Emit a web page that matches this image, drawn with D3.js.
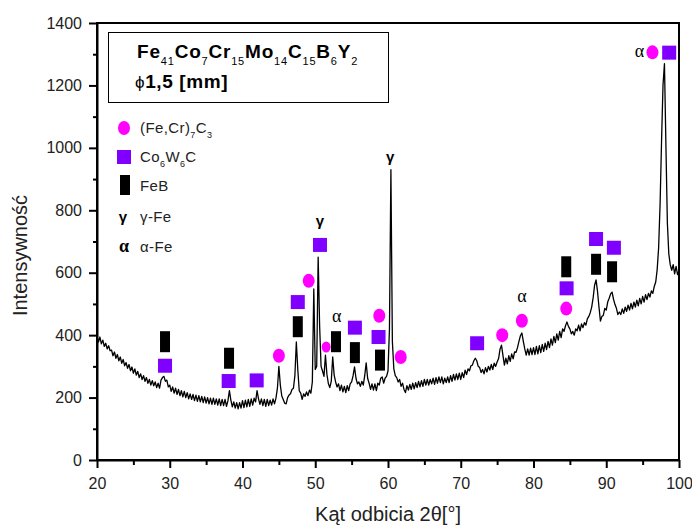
<!DOCTYPE html>
<html lang="pl">
<head>
  <meta charset="UTF-8">
  <title>XRD Fe41Co7Cr15Mo14C15B6Y2</title>
  <script src="https://d3js.org/d3.v7.min.js"></script>
  <style>
    body { margin: 0; background: #fff; }
    svg text { font-family: Arial, "Liberation Sans", sans-serif; fill: #222; }
    .axis path, .axis line { stroke: #000; }
  </style>
</head>
<body>
  <svg width="692" height="528"></svg>
  <script>
    // Measurement grid: 2theta from 20 to 100 deg, 0.2 deg step
    const angleStart = 20, angleStep = 0.2;
    const intensity = [
      396,378,394,372,384,364,374,356,366,350,
      352,334,346,326,338,318,330,310,322,302,
      312,294,306,286,298,278,292,272,284,264,
      276,258,270,252,264,246,258,240,254,238,
      250,232,246,230,256,264,268,252,256,234,
      240,220,234,214,230,210,226,206,222,202,
      220,200,216,196,212,194,210,190,208,188,
      206,186,204,184,202,182,200,180,198,178,
      198,178,196,176,196,174,194,174,194,172,
      190,222,192,170,186,166,184,164,184,166,
      190,168,192,170,194,172,196,176,198,186,
      222,196,178,196,174,194,172,194,174,192,
      176,196,180,198,230,300,240,205,194,182,
      180,200,208,212,226,230,270,378,290,222,
      214,194,212,204,218,206,224,214,250,548,
      290,300,650,430,300,285,268,336,275,245,
      232,252,330,272,250,234,244,222,240,218,
      236,216,238,222,244,250,270,298,262,244,
      250,236,252,240,270,311,262,246,226,244,
      224,244,222,246,240,262,266,246,262,268,
      285,420,930,380,292,270,264,250,258,236,
      246,226,216,238,224,242,226,246,228,248,
      232,252,234,254,236,258,240,258,240,258,
      244,262,242,264,246,266,248,266,244,262,
      248,266,248,270,252,274,256,276,258,278,
      258,280,264,288,274,292,286,302,304,318,
      326,318,300,296,280,290,276,296,282,300,
      288,306,290,310,300,314,325,355,368,335,
      304,326,308,334,316,340,324,346,345,360,
      380,398,407,380,356,336,356,336,358,338,
      360,338,364,340,366,344,370,348,374,354,
      380,360,388,368,396,376,404,384,412,392,
      420,412,430,442,428,420,404,412,400,420,
      414,432,414,436,424,440,432,452,460,472,
      490,520,560,577,540,490,445,460,464,486,
      480,506,518,532,538,515,498,486,466,474,
      466,484,470,490,476,496,480,502,484,506,
      490,512,494,518,500,524,506,530,514,534,
      522,542,534,556,570,610,680,820,1020,1200,
      1270,1010,760,660,625,608,626,596,620,594,
      606
    ];

    // Phase markers [2theta, intensity]
    const carbideM7C3 = [[45.0, 334], [49.1, 574], [58.8, 462], [61.75, 330],
                         [75.7, 400], [78.4, 446], [84.5, 485], [96.35, 1306]];
    const carbideM7C3Small = [[51.5, 362]];
    const carbideCo6W6C = [[29.35, 302], [38.1, 253], [41.95, 255], [47.6, 506],
                           [50.65, 689], [55.45, 424], [58.7, 394], [72.25, 374],
                           [84.55, 550], [88.6, 708], [91.05, 680], [98.65, 1305]];
    const borideFeB = [[29.35, 379], [38.15, 326], [47.6, 427], [52.85, 379],
                       [55.45, 344], [58.9, 320], [84.5, 619], [88.6, 627], [90.8, 603]];
    const gammaLabels = [[50.65, 767], [60.3, 972]];
    const alphaLabels = [[52.95, 457], [78.4, 523], [94.55, 1306]];

    const xTicks = d3.range(20, 101, 10);
    const yTicks = d3.range(0, 1401, 200);
    const formula = [["Fe", "41"], ["Co", "7"], ["Cr", "15"], ["Mo", "14"],
                     ["C", "15"], ["B", "6"], ["Y", "2"]];

    const svg = d3.select("svg");
    const margin = {left: 97, right: 13, top: 23, bottom: 68};
    const W = 692, H = 528;

    const x = d3.scaleLinear().domain([20, 100]).range([margin.left, W - margin.right]);
    const y = d3.scaleLinear().domain([0, 1400]).range([H - margin.bottom, margin.top]);

    const points = intensity.map((v, i) => [angleStart + i * angleStep, v]);

    // frame
    svg.append("rect")
      .attr("x", x(20)).attr("y", y(1400))
      .attr("width", x(100) - x(20)).attr("height", y(0) - y(1400))
      .attr("fill", "none").attr("stroke", "#000").attr("stroke-width", 2);

    // minor ticks
    svg.append("g").attr("class", "axis")
      .attr("transform", `translate(0,${y(0)})`)
      .call(d3.axisBottom(x).tickValues(d3.range(25, 100, 10)).tickSize(5).tickFormat(""))
      .call(g => g.select(".domain").remove())
      .selectAll("line").attr("stroke-width", 2);
    svg.append("g").attr("class", "axis")
      .attr("transform", `translate(${x(20)},0)`)
      .call(d3.axisLeft(y).tickValues(d3.range(100, 1400, 200)).tickSize(4).tickFormat(""))
      .call(g => g.select(".domain").remove())
      .selectAll("line").attr("stroke-width", 2);

    // major axes
    const xAxis = svg.append("g").attr("class", "axis")
      .attr("transform", `translate(0,${y(0)})`)
      .call(d3.axisBottom(x).tickValues(xTicks).tickSize(8).tickSizeOuter(0).tickFormat(d3.format("d")));
    xAxis.select(".domain").attr("stroke-width", 2);
    xAxis.selectAll("line").attr("stroke-width", 2);
    xAxis.selectAll("text").attr("font-size", 16).attr("dy", "1.15em").attr("fill", "#222");

    const yAxis = svg.append("g").attr("class", "axis")
      .attr("transform", `translate(${x(20)},0)`)
      .call(d3.axisLeft(y).tickValues(yTicks).tickSize(8).tickSizeOuter(0).tickFormat(d3.format("d")));
    yAxis.select(".domain").attr("stroke-width", 2);
    yAxis.selectAll("line").attr("stroke-width", 2);
    yAxis.selectAll("text").attr("font-size", 16).attr("x", -15).attr("fill", "#222");

    // pattern
    svg.append("path")
      .datum(points)
      .attr("fill", "none")
      .attr("stroke", "#000")
      .attr("stroke-width", 1.3)
      .attr("stroke-linejoin", "round")
      .attr("d", d3.line().x(d => x(d[0])).y(d => y(d[1])));

    // markers
    svg.append("g").selectAll("ellipse").data(carbideM7C3).join("ellipse")
      .attr("cx", d => x(d[0])).attr("cy", d => y(d[1]))
      .attr("rx", 6).attr("ry", 7).attr("fill", "#ff00ff");
    svg.append("g").selectAll("ellipse").data(carbideM7C3Small).join("ellipse")
      .attr("cx", d => x(d[0])).attr("cy", d => y(d[1]))
      .attr("rx", 4.5).attr("ry", 5.5).attr("fill", "#ff00ff");
    svg.append("g").selectAll("rect").data(carbideCo6W6C).join("rect")
      .attr("x", d => x(d[0]) - 7).attr("y", d => y(d[1]) - 7)
      .attr("width", 14).attr("height", 14).attr("fill", "#8000ff");
    svg.append("g").selectAll("rect").data(borideFeB).join("rect")
      .attr("x", d => x(d[0]) - 5).attr("y", d => y(d[1]) - 10.5)
      .attr("width", 10).attr("height", 21).attr("fill", "#000");
    svg.append("g").selectAll("text").data(gammaLabels).join("text")
      .attr("x", d => x(d[0])).attr("y", d => y(d[1]) + 5)
      .attr("text-anchor", "middle").attr("font-size", 15).attr("font-weight", "bold")
      .style("fill", "#000").text("γ");
    svg.append("g").selectAll("text").data(alphaLabels).join("text")
      .attr("x", d => x(d[0])).attr("y", d => y(d[1]) + 5)
      .attr("text-anchor", "middle").attr("font-size", 18)
      .style("font-family", "'Liberation Serif', 'DejaVu Serif', serif")
      .style("fill", "#000").text("α");

    // title box
    svg.append("rect")
      .attr("x", 108.5).attr("y", 32.5).attr("width", 280).attr("height", 70)
      .attr("fill", "#fff").attr("stroke", "#000").attr("stroke-width", 1);
    const title = svg.append("text").attr("x", 137).attr("y", 58)
      .attr("font-size", 19).attr("font-weight", "bold")
      .style("letter-spacing", "0.8px").style("fill", "#000");
    formula.forEach(([el, n], i) => {
      title.append("tspan").attr("dy", i === 0 ? 0 : -7).text(el);
      title.append("tspan").attr("dy", 7).attr("font-size", 11).attr("font-weight", "normal").text(n);
    });
    const dia = svg.append("text").attr("x", 135).attr("y", 88)
      .attr("font-size", 19).attr("font-weight", "bold")
      .style("letter-spacing", "0.6px").style("fill", "#000");
    dia.append("tspan").attr("font-weight", "normal").attr("font-size", 17).text("ϕ");
    dia.append("tspan").text("1,5 [mm]");

    // legend
    const leg = svg.append("g");
    leg.append("ellipse").attr("cx", 124).attr("cy", 128).attr("rx", 6).attr("ry", 7).attr("fill", "#ff00ff");
    leg.append("rect").attr("x", 117).attr("y", 150).attr("width", 14).attr("height", 14).attr("fill", "#8000ff");
    leg.append("rect").attr("x", 120).attr("y", 175).attr("width", 10).attr("height", 20).attr("fill", "#000");
    leg.append("text").attr("x", 123).attr("y", 222).attr("text-anchor", "middle")
      .attr("font-size", 15).attr("font-weight", "bold").style("fill", "#000").text("γ");
    leg.append("text").attr("x", 124).attr("y", 252).attr("text-anchor", "middle")
      .attr("font-size", 18).attr("font-weight", "bold")
      .style("font-family", "'Liberation Serif', serif").style("fill", "#000").text("α");

    function legendText(yy, parts) {
      const t = leg.append("text").attr("x", 140).attr("y", yy)
        .attr("font-size", 15).style("letter-spacing", "0.4px");
      let shifted = false;
      parts.forEach(([s, sub]) => {
        t.append("tspan").attr("dy", shifted ? -5 : 0).text(s);
        shifted = false;
        if (sub) {
          t.append("tspan").attr("dy", 5).attr("font-size", 9).text(sub);
          shifted = true;
        }
      });
    }
    legendText(133, [["(Fe,Cr)", "7"], ["C", "3"]]);
    legendText(162, [["Co", "6"], ["W", "6"], ["C", null]]);
    legendText(191, [["FeB", null]]);
    legendText(222, [["γ-Fe", null]]);
    legendText(252, [["α-Fe", null]]);

    // axis titles
    svg.append("text")
      .attr("x", (x(20) + x(100)) / 2).attr("y", 521)
      .attr("text-anchor", "middle").attr("font-size", 20)
      .text("Kąt odbicia 2θ[°]");
    svg.append("text")
      .attr("transform", `translate(27,${(y(0) + y(1400)) / 2 + 14}) rotate(-90)`)
      .attr("text-anchor", "middle").attr("font-size", 20)
      .text("Intensywność");
  </script>
</body>
</html>
